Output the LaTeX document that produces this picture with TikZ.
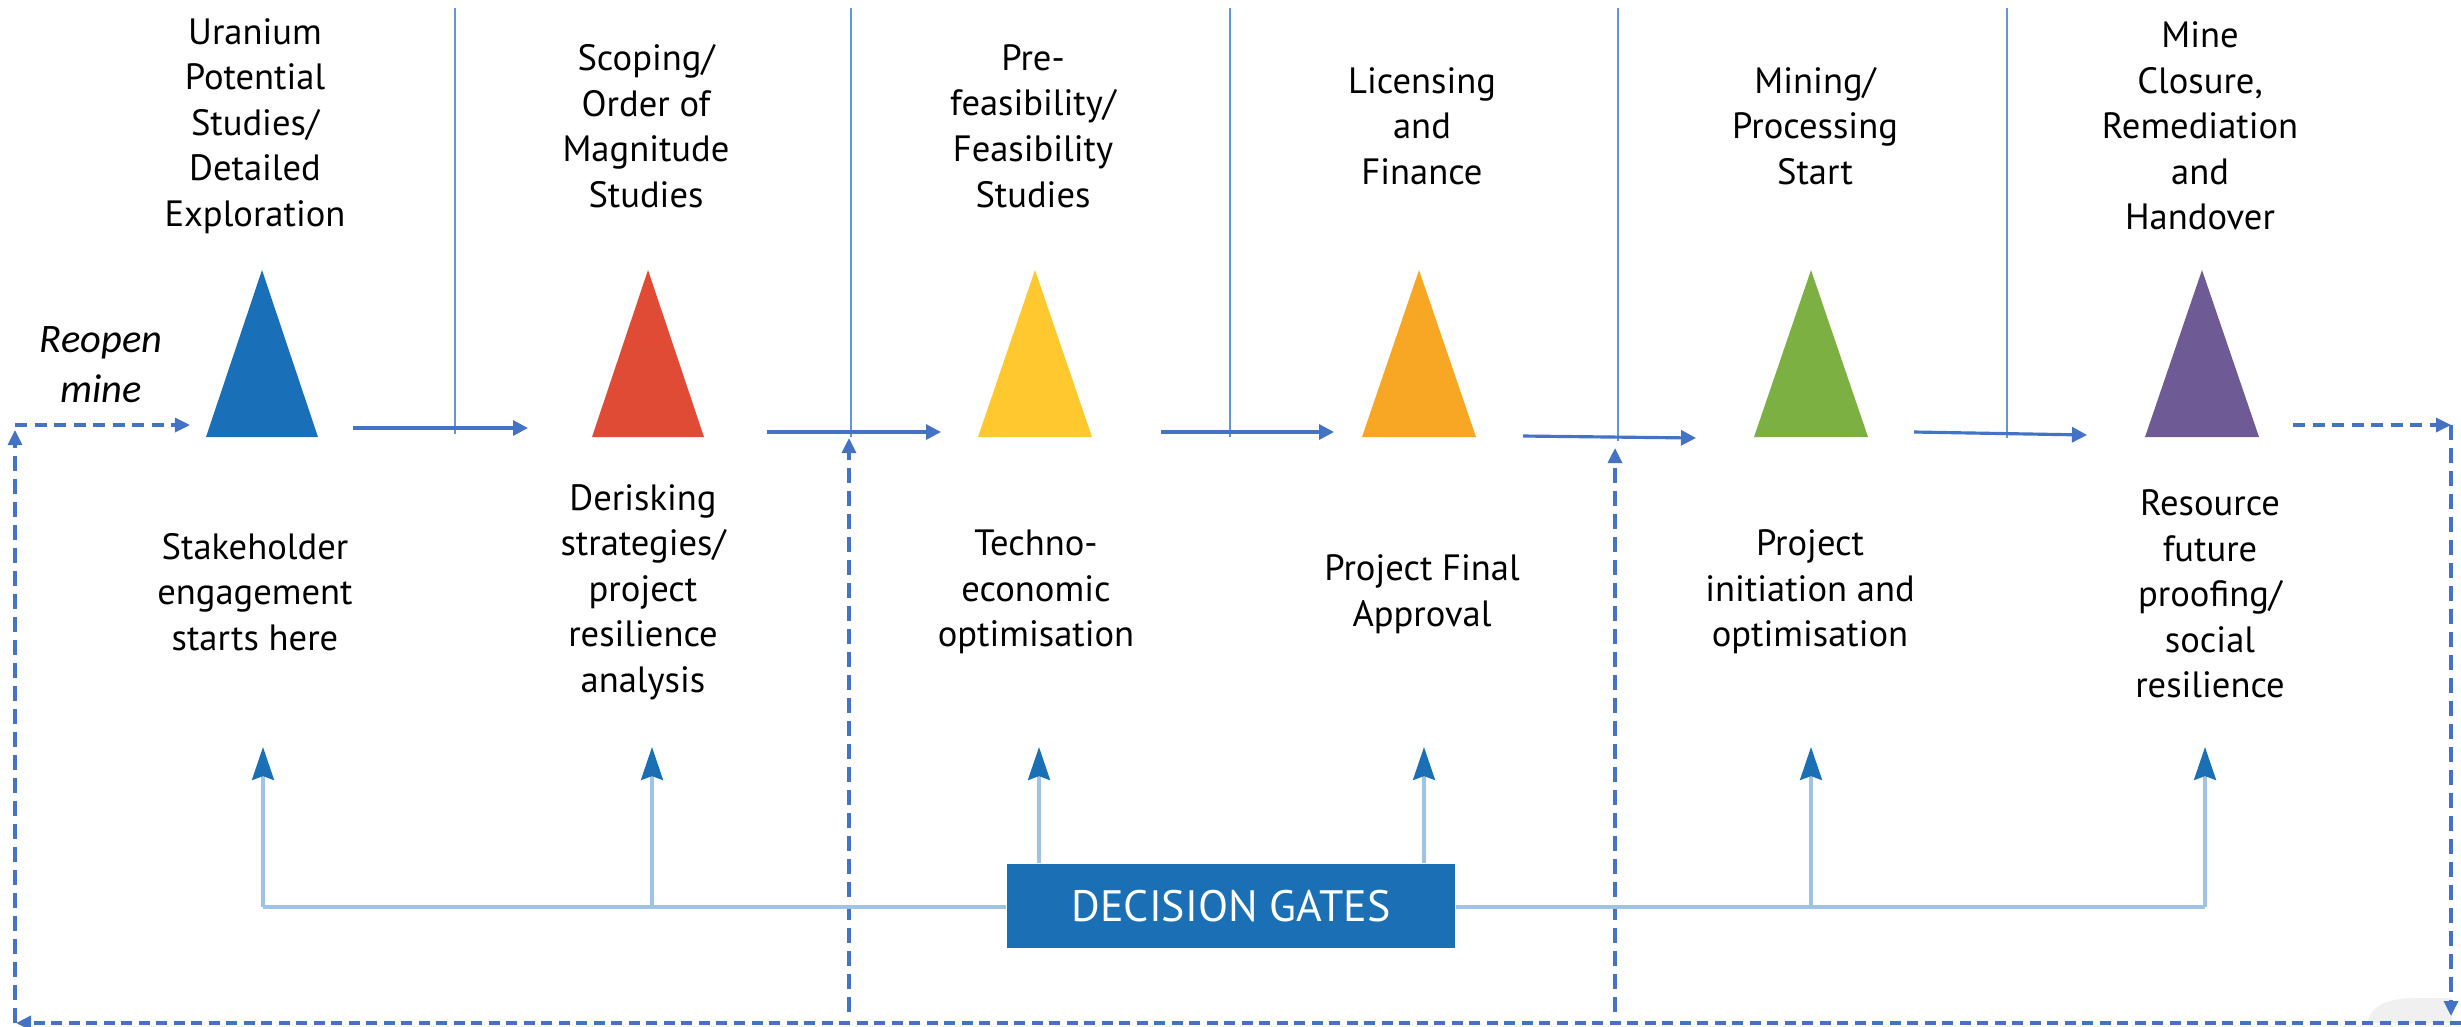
\documentclass[tikz,border=0pt]{standalone}
\usepackage{fontspec}
\setmainfont{PT Sans}
\newfontfamily\itfont{Carlito}
\usetikzlibrary{arrows.meta}
\definecolor{tblue}{HTML}{1A70B8}
\definecolor{tred}{HTML}{E04B36}
\definecolor{tyellow}{HTML}{FFC82E}
\definecolor{torange}{HTML}{F8A725}
\definecolor{tgreen}{HTML}{7DB043}
\definecolor{tpurple}{HTML}{6E5A94}
\definecolor{arrblue}{HTML}{4472C4}
\definecolor{lineblue}{HTML}{5B9BD5}
\definecolor{gateline}{HTML}{9DC3E6}
\definecolor{gatehead}{HTML}{1A6FB5}
\tikzset{
  flow/.style={draw=arrblue, line width=0.9pt, -{Triangle[length=0.15cm,width=0.15cm]}},
  divider/.style={draw=lineblue, line width=0.7pt},
  loopline/.style={draw=arrblue, line width=0.9pt, dash pattern=on 0.12cm off 0.075cm},
  looparrow/.style={loopline, -{Triangle[length=0.15cm,width=0.14cm]}},
  gatebar/.style={draw=gateline, line width=1.2pt},
  gatearrow/.style={draw=gateline, line width=0.9pt, -{Stealth[length=0.33cm,width=0.22cm,inset=0.04cm,color=gatehead]}},
  gatebox/.style={fill=gatehead, minimum width=4.48cm, minimum height=0.84cm, inner sep=0pt, text=white, font=\fontsize{12.5}{15}\selectfont},
  title/.style={align=center, inner sep=0pt, font=\fontsize{10.4}{12.95}\selectfont},
  italnote/.style={align=center, inner sep=0pt, font=\itfont\itshape\fontsize{11.5}{14.2}\selectfont},
}
\begin{document}
\begin{tikzpicture}[x=0.01cm, y=-0.01cm]
\useasboundingbox (0,0) rectangle (2461,1026);
% faint corner artefact
\fill[black!6] (2367,1023) .. controls (2372,1003) and (2390,998) .. (2420,998) -- (2452,998) -- (2452,1023) -- cycle;
% triangles
\fill[tblue]   (262,270)  -- (318,437)  -- (206,437)  -- cycle;
\fill[tred]    (648,270)  -- (704,437)  -- (592,437)  -- cycle;
\fill[tyellow] (1035,270) -- (1092,437) -- (978,437)  -- cycle;
\fill[torange] (1419,270) -- (1476,437) -- (1362,437) -- cycle;
\fill[tgreen]  (1811,270) -- (1868,437) -- (1754,437) -- cycle;
\fill[tpurple] (2202,270) -- (2259,437) -- (2145,437) -- cycle;
% top titles
\node[title] (h1) at (255,126) {Uranium\\Potential\\Studies/\\Detailed\\Exploration};
\node[title] (h2) at (646,126) {Scoping/\\Order of\\Magnitude\\Studies};
\node[title] (h3) at (1033,126) {Pre-\\feasibility/\\Feasibility\\Studies};
\node[title] (h4) at (1422,126) {Licensing\\and\\Finance};
\node[title] (h5) at (1815,126) {Mining/\\Processing\\Start};
\node[title] (h6) at (2200,126) {Mine\\Closure,\\Remediation\\and\\Handover};
% bottom notes
\node[title] (n1) at (255,592) {Stakeholder\\engagement\\starts here};
\node[title] (n2) at (643,592) {Derisking\\strategies/\\project\\resilience\\analysis};
\node[title] (n3) at (1036,592) {Techno-\\economic\\optimisation};
\node[title] (n4) at (1422,594) {Project Final\\Approval};
\node[title] (n5) at (1810,592) {Project\\initiation and\\optimisation};
\node[title] (n6) at (2210,594) {Resource\\future\\proofing/\\social\\resilience};
\node[italnote] (reopen) at (101,365) {Reopen\\mine};
% dividers
\coordinate (v1t) at (455,8);  \coordinate (v1b) at (455,434);
\coordinate (v2t) at (851,8);  \coordinate (v2b) at (851,437);
\coordinate (v3t) at (1230,8); \coordinate (v3b) at (1230,437);
\coordinate (v4t) at (1618,8); \coordinate (v4b) at (1618,441);
\coordinate (v5t) at (2007,8); \coordinate (v5b) at (2007,438);
\foreach \v in {v1,v2,v3,v4,v5} \draw[divider] (\v t) -- (\v b);
% flow arrows
\coordinate (f1s) at (353,428);  \coordinate (f1e) at (528,428);
\coordinate (f2s) at (767,432);  \coordinate (f2e) at (941,432);
\coordinate (f3s) at (1161,432); \coordinate (f3e) at (1334,432);
\coordinate (f4s) at (1523,436); \coordinate (f4e) at (1696,438);
\coordinate (f5s) at (1914,432); \coordinate (f5e) at (2087,435);
\foreach \f in {f1,f2,f3,f4,f5} \draw[flow] (\f s) -- (\f e);
% loop (dashed)
\coordinate (r0) at (2293,425); \coordinate (r1) at (2451,425);
\coordinate (r2) at (2451,1016);
\coordinate (b0) at (2461,1023); \coordinate (b1) at (16,1023);
\coordinate (l0) at (15,1023); \coordinate (l1) at (15,430);
\coordinate (l2) at (15,425); \coordinate (l3) at (190,425);
\coordinate (m1b) at (849,1012); \coordinate (m1t) at (849,438);
\coordinate (m2b) at (1615,1012); \coordinate (m2t) at (1615,448);
\draw[looparrow] (r0) -- (r1);
\draw[looparrow, dash pattern=on 0.15cm off 0.08cm] (r1) -- (r2);
\draw[looparrow, line width=1.1pt, dash pattern=on 0.11cm off 0.065cm] (b0) -- (b1);
\draw[looparrow, dash pattern=on 0.15cm off 0.08cm] (l0) -- (l1);
\draw[looparrow] (l2) -- (l3);
\draw[looparrow, dash pattern=on 0.15cm off 0.08cm] (m1b) -- (m1t);
\draw[looparrow, dash pattern=on 0.15cm off 0.08cm] (m2b) -- (m2t);
% decision gates
\node[gatebox] (dg) at (1231,906) {DECISION GATES};
\coordinate (g1) at (263,907);  \coordinate (g2) at (652,907);
\coordinate (g5) at (1811,907); \coordinate (g6) at (2205,907);
\draw[gatebar] (g1) -- (dg.west |- g1);
\draw[gatebar] (dg.east |- g6) -- (g6);
\coordinate (k1) at (263,747);  \coordinate (k2) at (652,747);
\coordinate (k3) at (1039,747); \coordinate (k4) at (1424,747);
\coordinate (k5) at (1811,747); \coordinate (k6) at (2205,747);
\draw[gatearrow] (g1) -- (k1);
\draw[gatearrow] (g2) -- (k2);
\draw[gatearrow] (dg.north -| k3) -- (k3);
\draw[gatearrow] (dg.north -| k4) -- (k4);
\draw[gatearrow] (g5) -- (k5);
\draw[gatearrow] (g6) -- (k6);
\end{tikzpicture}
\end{document}
